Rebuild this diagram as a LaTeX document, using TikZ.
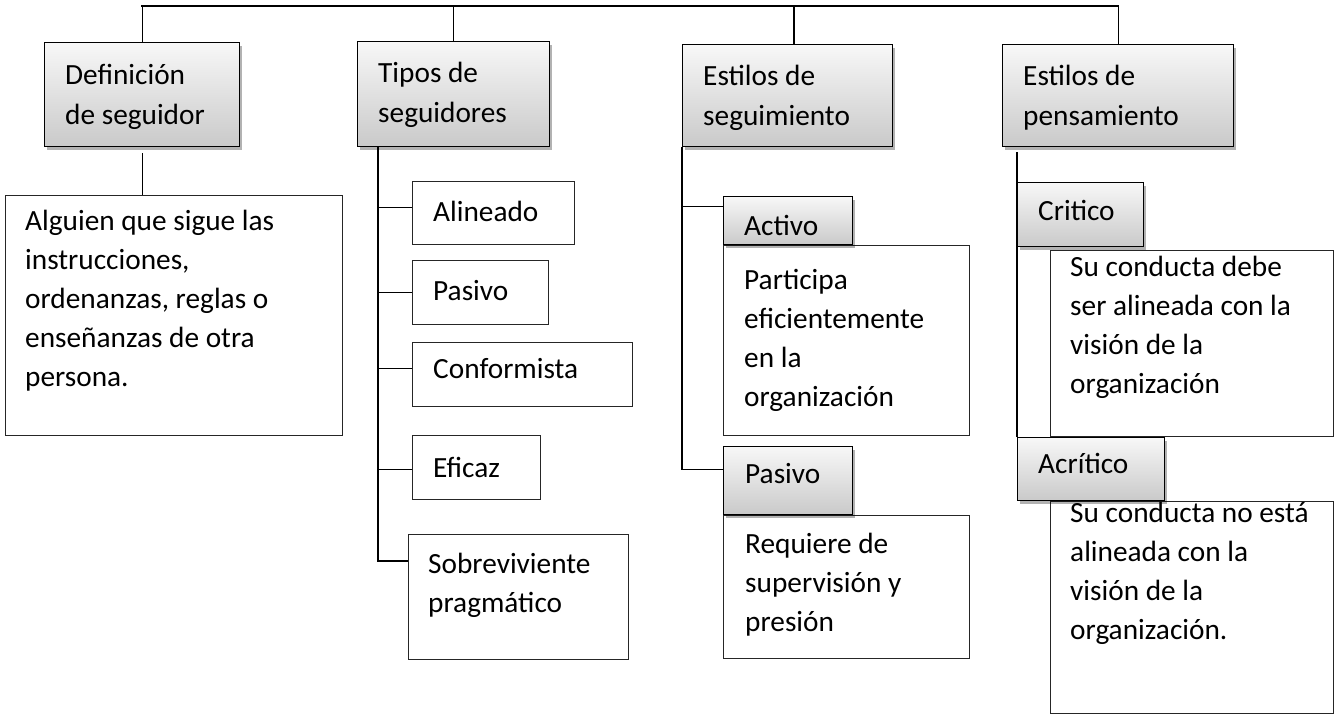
\documentclass[tikz,border=0pt]{standalone}
\usepackage{fontspec}
\setmainfont{Carlito}
\usetikzlibrary{shadows}
\newcommand\mylines[1]{\begin{tabular}[t]{@{}l@{}}#1\end{tabular}}
\begin{document}
\begin{tikzpicture}[x=1pt,y=-1pt,
  hbox/.style={draw=black, line width=1.4pt, top color=gray!6, bottom color=gray!42,
     drop shadow={shadow xshift=2.5pt, shadow yshift=-3pt, fill=black, opacity=0.3},
     inner sep=0pt, anchor=north west},
  pbox/.style={draw=black!85, line width=1pt, fill=white, inner sep=0pt, anchor=north west},
  lbl/.style={anchor=base west, inner sep=0pt, font=\fontsize{29.3}{39}\selectfont},
  hlbl/.style={anchor=base west, inner sep=0pt, font=\fontsize{29.3}{40}\selectfont},
  conn/.style={draw=black, line width=1.3pt}]
\useasboundingbox (0,0) rectangle (1337,715);

% ---------- main boxes ----------
\path
  (44,42)   node[hbox, minimum width=195pt, minimum height=104pt] (defh) {}
  (357,41)  node[hbox, minimum width=192pt, minimum height=105pt] (tiph) {}
  (682,44)  node[hbox, minimum width=210pt, minimum height=102pt] (segh) {}
  (1002,44) node[hbox, minimum width=231pt, minimum height=102pt] (pensh) {};

% ---------- top connectors ----------
\coordinate (top) at (141,6);
\coordinate (segtop) at (794,6);
\coordinate (tv) at (378,146);
\draw[conn] (defh.north) |- (top) -| (pensh.north);
\draw[conn] (tiph.north) -- (tiph.north |- top);
\draw[conn] (segtop) -- (segtop |- segh.north);

\path
  (5,195)    node[pbox, minimum width=337pt, minimum height=240pt] (defb) {}
  (412,181)  node[pbox, minimum width=162pt, minimum height=63pt] (ali) {}
  (412,260)  node[pbox, minimum width=136pt, minimum height=64pt] (pas1) {}
  (412,342)  node[pbox, minimum width=220pt, minimum height=64pt] (conf) {}
  (412,435)  node[pbox, minimum width=128pt, minimum height=64pt] (efi) {}
  (408,534)  node[pbox, minimum width=220pt, minimum height=125pt] (sob) {}
  (723,245)  node[pbox, minimum width=246pt, minimum height=190pt] (actb) {}
  (723,515)  node[pbox, minimum width=246pt, minimum height=143pt] (pasb) {}
  (1050,250) node[pbox, minimum width=283pt, minimum height=186pt] (crib) {}
  (1050,501) node[pbox, minimum width=283pt, minimum height=212pt] (acrb) {};

% definicion
\draw[conn] ([yshift=-6pt]defh.south) -- (defh.south |- defb.north);
% tipos
\draw[conn] (tv) |- ([yshift=36pt]sob.west);
\draw[conn] ([yshift=5.5pt]ali.west) -- ++(-34,0);
\draw[conn] (pas1.west) -- ++(-34,0);
\draw[conn] ([yshift=6pt]conf.west) -- ++(-34,0);
\draw[conn] ([yshift=-2pt]efi.west) -- ++(-34,0);

\path
  (723,196)  node[hbox, minimum width=129pt, minimum height=48pt] (acth) {}
  (723,446)  node[hbox, minimum width=129pt, minimum height=68pt] (pash) {}
  (1017,437) node[hbox, minimum width=147pt, minimum height=63pt] (acrh) {};

% seguimiento
\draw[conn] (segh.south west) |- ([yshift=11pt]pash.west);
\draw[conn] ([yshift=14pt]acth.west) -- ++(-41,0);
% pensamiento
\draw[conn] (acrh.north west) -- ++(0,-285);

\path
  (1017,182) node[hbox, minimum width=126pt, minimum height=64pt] (crih) {};

% ---------- texts ----------
\node[hlbl] (defh-t)  at (65,84)   {\mylines{Definición\\de seguidor}};
\node[hlbl] (tiph-t)  at (378,82)  {\mylines{Tipos de\\seguidores}};
\node[hlbl] (segh-t)  at (703,85)  {\mylines{Estilos de\\seguimiento}};
\node[hlbl] (pensh-t) at (1023,85) {\mylines{Estilos de\\pensamiento}};

\node[lbl] (defb-t) at (25,230) {\mylines{Alguien que sigue las\\instrucciones,\\ordenanzas, reglas o\\enseñanzas de otra\\persona.}};
\node[lbl] (ali-t)  at (433,221) {Alineado};
\node[lbl] (pas1-t) at (433,300) {Pasivo};
\node[lbl] (conf-t) at (433,378) {Conformista};
\node[lbl] (efi-t)  at (433,477) {Eficaz};
\node[lbl] (sob-t)  at (428,573) {\mylines{Sobreviviente\\pragmático}};

\node[lbl] (acth-t) at (744,235) {Activo};
\node[lbl] (actb-t) at (744,289) {\mylines{Participa\\eficientemente\\en la\\organización}};
\node[lbl] (pash-t) at (745,483) {Pasivo};
\node[lbl] (pasb-t) at (745,553) {\mylines{Requiere de\\supervisión y\\presión}};

\node[lbl] (crih-t) at (1038,220) {Critico};
\node[lbl] (crib-t) at (1070,276) {\mylines{Su conducta debe\\ser alineada con la\\visión de la\\organización}};
\node[lbl] (acrh-t) at (1038,473) {Acrítico};
\node[lbl] (acrb-t) at (1070,522) {\mylines{Su conducta no está\\alineada con la\\visión de la\\organización.}};
\end{tikzpicture}
\end{document}
